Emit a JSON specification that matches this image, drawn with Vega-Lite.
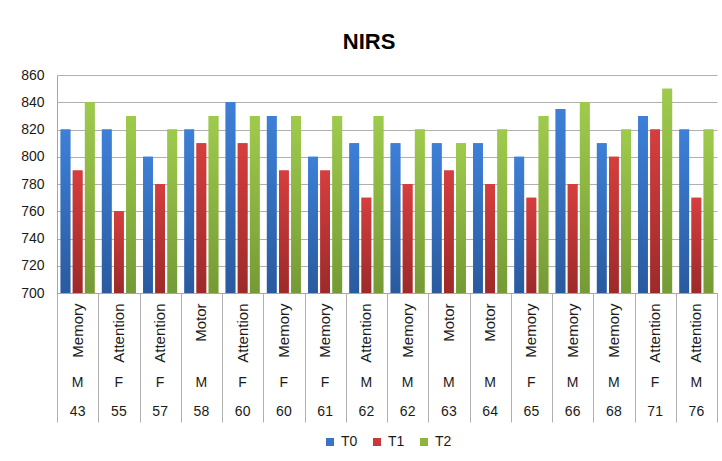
{
  "$schema": "https://vega.github.io/schema/vega-lite/v6.json",
  "width": 660,
  "height": 218,
  "autosize": {"type": "none"},
  "padding": {"left": 57, "top": 75, "right": 5, "bottom": 168},
  "background": "white",
  "title": {"text": "NIRS", "font": "Liberation Sans", "fontSize": 22, "fontWeight": "bold", "color": "#000000", "anchor": "middle", "frame": "bounds", "offset": 14},
  "data": {"values": [
    {"task": "Memory", "sex": "M", "age": 43, "series": "T0", "value": 820},
    {"task": "Memory", "sex": "M", "age": 43, "series": "T1", "value": 790},
    {"task": "Memory", "sex": "M", "age": 43, "series": "T2", "value": 840},
    {"task": "Attention", "sex": "F", "age": 55, "series": "T0", "value": 820},
    {"task": "Attention", "sex": "F", "age": 55, "series": "T1", "value": 760},
    {"task": "Attention", "sex": "F", "age": 55, "series": "T2", "value": 830},
    {"task": "Attention", "sex": "F", "age": 57, "series": "T0", "value": 800},
    {"task": "Attention", "sex": "F", "age": 57, "series": "T1", "value": 780},
    {"task": "Attention", "sex": "F", "age": 57, "series": "T2", "value": 820},
    {"task": "Motor", "sex": "M", "age": 58, "series": "T0", "value": 820},
    {"task": "Motor", "sex": "M", "age": 58, "series": "T1", "value": 810},
    {"task": "Motor", "sex": "M", "age": 58, "series": "T2", "value": 830},
    {"task": "Attention", "sex": "F", "age": 60, "series": "T0", "value": 840},
    {"task": "Attention", "sex": "F", "age": 60, "series": "T1", "value": 810},
    {"task": "Attention", "sex": "F", "age": 60, "series": "T2", "value": 830},
    {"task": "Memory", "sex": "F", "age": 60, "series": "T0", "value": 830},
    {"task": "Memory", "sex": "F", "age": 60, "series": "T1", "value": 790},
    {"task": "Memory", "sex": "F", "age": 60, "series": "T2", "value": 830},
    {"task": "Memory", "sex": "F", "age": 61, "series": "T0", "value": 800},
    {"task": "Memory", "sex": "F", "age": 61, "series": "T1", "value": 790},
    {"task": "Memory", "sex": "F", "age": 61, "series": "T2", "value": 830},
    {"task": "Attention", "sex": "M", "age": 62, "series": "T0", "value": 810},
    {"task": "Attention", "sex": "M", "age": 62, "series": "T1", "value": 770},
    {"task": "Attention", "sex": "M", "age": 62, "series": "T2", "value": 830},
    {"task": "Memory", "sex": "M", "age": 62, "series": "T0", "value": 810},
    {"task": "Memory", "sex": "M", "age": 62, "series": "T1", "value": 780},
    {"task": "Memory", "sex": "M", "age": 62, "series": "T2", "value": 820},
    {"task": "Motor", "sex": "M", "age": 63, "series": "T0", "value": 810},
    {"task": "Motor", "sex": "M", "age": 63, "series": "T1", "value": 790},
    {"task": "Motor", "sex": "M", "age": 63, "series": "T2", "value": 810},
    {"task": "Motor", "sex": "M", "age": 64, "series": "T0", "value": 810},
    {"task": "Motor", "sex": "M", "age": 64, "series": "T1", "value": 780},
    {"task": "Motor", "sex": "M", "age": 64, "series": "T2", "value": 820},
    {"task": "Memory", "sex": "F", "age": 65, "series": "T0", "value": 800},
    {"task": "Memory", "sex": "F", "age": 65, "series": "T1", "value": 770},
    {"task": "Memory", "sex": "F", "age": 65, "series": "T2", "value": 830},
    {"task": "Memory", "sex": "M", "age": 66, "series": "T0", "value": 835},
    {"task": "Memory", "sex": "M", "age": 66, "series": "T1", "value": 780},
    {"task": "Memory", "sex": "M", "age": 66, "series": "T2", "value": 840},
    {"task": "Memory", "sex": "M", "age": 68, "series": "T0", "value": 810},
    {"task": "Memory", "sex": "M", "age": 68, "series": "T1", "value": 800},
    {"task": "Memory", "sex": "M", "age": 68, "series": "T2", "value": 820},
    {"task": "Attention", "sex": "F", "age": 71, "series": "T0", "value": 830},
    {"task": "Attention", "sex": "F", "age": 71, "series": "T1", "value": 820},
    {"task": "Attention", "sex": "F", "age": 71, "series": "T2", "value": 850},
    {"task": "Attention", "sex": "M", "age": 76, "series": "T0", "value": 820},
    {"task": "Attention", "sex": "M", "age": 76, "series": "T1", "value": 770},
    {"task": "Attention", "sex": "M", "age": 76, "series": "T2", "value": 820}
  ]},
  "transform": [
    {"calculate": "datum.task + '|' + datum.sex + '|' + datum.age", "as": "key"}
  ],
  "encoding": {
    "xOffset": {"field": "series", "type": "nominal", "scale": {"paddingInner": 0.2, "paddingOuter": 0.3}},
    "y": {"field": "value", "type": "quantitative", "scale": {"domain": [700, 860], "zero": false, "nice": false},
      "axis": {"values": [700, 720, 740, 760, 780, 800, 820, 840, 860], "title": null, "ticks": false, "labelPadding": 13, "domainColor": "#a6a6a6", "gridColor": "#b0b0b0", "grid": true, "labelFontSize": 14}},
    "y2": {"datum": 700}
  },
  "layer": [
    {
      "mark": {"type": "bar"},
      "encoding": {
        "x": {"field": "key", "type": "nominal", "sort": null, "scale": {"paddingInner": 0, "paddingOuter": 0},
          "axis": {"orient": "bottom", "title": null, "labelAngle": 270, "labelExpr": "split(datum.value, '|')[0]", "ticks": false, "labelPadding": 10, "domainColor": "#a6a6a6", "labelFontSize": 15, "labelLimit": 200}},
        "color": {"field": "series", "type": "nominal", "scale": {"domain": ["T0", "T1", "T2"], "range": ["#3a75c4", "#c83a3a", "#8db53c"]},
          "legend": {"orient": "none", "legendX": 266, "legendY": 360, "direction": "horizontal", "title": null, "symbolType": "square", "symbolSize": 64, "symbolStrokeWidth": 0, "labelFontSize": 14, "labelOffset": 4, "columnPadding": 12}}
      }
    },
    {
      "transform": [{"filter": "datum.series === 'T0'"}],
      "mark": {"type": "bar", "color": {"gradient": "linear", "x1": 0, "y1": 0, "x2": 0, "y2": 1, "stops": [{"offset": 0, "color": "#3d80d8"}, {"offset": 1, "color": "#2a5a9e"}]}},
      "encoding": {
        "x": {"field": "key", "type": "nominal", "sort": null,
          "axis": {"orient": "bottom", "title": null, "labelAngle": 0, "labelExpr": "split(datum.value, '|')[1]", "ticks": false, "domain": false, "offset": 81, "labelPadding": 1, "labelFontSize": 14}}
      }
    },
    {
      "transform": [{"filter": "datum.series === 'T1'"}],
      "mark": {"type": "bar", "color": {"gradient": "linear", "x1": 0, "y1": 0, "x2": 0, "y2": 1, "stops": [{"offset": 0, "color": "#d63e3e"}, {"offset": 1, "color": "#9c2a2a"}]}},
      "encoding": {
        "x": {"field": "key", "type": "nominal", "sort": null,
          "axis": {"orient": "bottom", "title": null, "labelAngle": 0, "labelExpr": "split(datum.value, '|')[2]", "ticks": false, "domain": false, "offset": 110, "labelPadding": 1, "labelFontSize": 14}}
      }
    },
    {
      "transform": [{"filter": "datum.series === 'T2'"}],
      "mark": {"type": "bar", "color": {"gradient": "linear", "x1": 0, "y1": 0, "x2": 0, "y2": 1, "stops": [{"offset": 0, "color": "#9fcb4c"}, {"offset": 1, "color": "#759a36"}]}},
      "encoding": {
        "x": {"field": "key", "type": "nominal", "sort": null,
          "axis": {"orient": "bottom", "title": null, "labels": false, "ticks": true, "tickBand": "extent", "tickSize": 129, "tickColor": "#b0b0b0", "domain": false}}
      }
    }
  ],
  "resolve": {"axis": {"x": "independent"}},
  "config": {
    "view": {"stroke": null},
    "axis": {"labelFont": "Liberation Sans", "labelColor": "#1a1a1a"},
    "legend": {"labelFont": "Liberation Sans", "labelColor": "#1a1a1a"}
  }
}
